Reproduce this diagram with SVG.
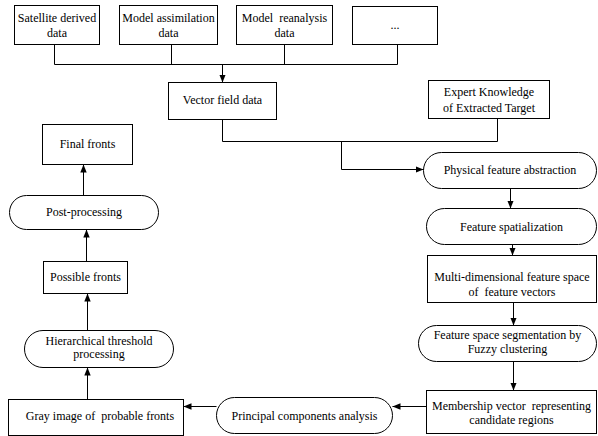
<svg xmlns="http://www.w3.org/2000/svg" width="598" height="436" viewBox="0 0 598 436">
<style>
.n rect{fill:#fff;stroke:#000;stroke-width:1}
text{font-family:'Liberation Serif',serif;font-size:12px;fill:#000;text-anchor:middle}
.c path{fill:none;stroke:#000;stroke-width:1}
</style>
<defs>
<marker id="a" markerUnits="userSpaceOnUse" markerWidth="10" markerHeight="8" refX="8" refY="4" orient="auto">
<path d="M0,0.8 L8,4 L0,7.2 z" fill="#000"/>
</marker>
</defs>
<rect width="598" height="436" fill="#fff"/>
<g font-family="Liberation Serif, serif">
<g id="sat" class="n"><rect x="14.5" y="5.5" width="85" height="39"/><text x="57" y="22">Satellite derived</text><text x="57" y="37">data</text></g>
<g id="assim" class="n"><rect x="119.5" y="5.5" width="98" height="39"/><text x="168.5" y="22">Model assimilation</text><text x="168.5" y="37">data</text></g>
<g id="rean" class="n"><rect x="236.5" y="5.5" width="96" height="39"/><text x="284.5" y="22" xml:space="preserve">Model  reanalysis</text><text x="284.5" y="37">data</text></g>
<g id="dots" class="n"><rect x="352.5" y="6.5" width="85" height="38"/><text x="395" y="29">...</text></g>
<g id="vector" class="n"><rect x="168.5" y="82.5" width="108" height="37"/><text x="222.5" y="104">Vector field data</text></g>
<g id="expert" class="n"><rect x="428.5" y="80.5" width="121" height="38"/><text x="489" y="96">Expert Knowledge</text><text x="489" y="112">of Extracted Target</text></g>
<g id="final" class="n"><rect x="42.5" y="124.5" width="90" height="40"/><text x="87.5" y="148">Final fronts</text></g>
<g id="post" class="n"><rect x="9.5" y="195.5" width="149" height="34" rx="17"/><text x="84" y="216">Post-processing</text></g>
<g id="possible" class="n"><rect x="43.5" y="261.5" width="84" height="32"/><text x="85.5" y="281">Possible fronts</text></g>
<g id="hier" class="n"><rect x="24.5" y="330.5" width="149" height="37" rx="18.5"/><text x="99" y="345">Hierarchical threshold</text><text x="99" y="358">processing</text></g>
<g id="gray" class="n"><rect x="8.5" y="399.5" width="175" height="36"/><text x="100" y="420" xml:space="preserve">Gray image of  probable fronts</text></g>
<g id="pca" class="n"><rect x="216.5" y="397.5" width="176" height="36" rx="18"/><text x="304.5" y="420">Principal components analysis</text></g>
<g id="phys" class="n"><rect x="423.5" y="152.5" width="173" height="36" rx="18"/><text x="510" y="174">Physical feature abstraction</text></g>
<g id="spat" class="n"><rect x="426.5" y="208.5" width="170" height="36" rx="18"/><text x="511.5" y="231">Feature spatialization</text></g>
<g id="multi" class="n"><rect x="427.5" y="255.5" width="169" height="47"/><text x="512" y="281">Multi-dimensional feature space</text><text x="512" y="296" xml:space="preserve">of  feature vectors</text></g>
<g id="seg" class="n"><rect x="418.5" y="325.5" width="178" height="36" rx="18"/><text x="507.5" y="339">Feature space segmentation by</text><text x="507.5" y="353">Fuzzy clustering</text></g>
<g id="member" class="n"><rect x="426.5" y="390.5" width="170" height="43"/><text x="511.5" y="410" xml:space="preserve">Membership vector  representing</text><text x="511.5" y="424">candidate regions</text></g>
</g>
<g id="connectors" class="c">
<path d="M54.5,44.5 V64.5 M171.5,44.5 V64.5 M284.5,44.5 V64.5 M397.5,44.5 V64.5 M54.5,64.5 H397.5"/>
<path d="M222.5,64.5 V82.5" marker-end="url(#a)"/>
<path d="M222.5,119.5 V141.5 H497.5 M497.5,118.5 V141.5"/>
<path d="M341.5,141.5 V169.5 H423.5" marker-end="url(#a)"/>
<path d="M510.5,188.5 V208.5" marker-end="url(#a)"/>
<path d="M512.5,244.5 V255.5" marker-end="url(#a)"/>
<path d="M513.5,302.5 V325.5" marker-end="url(#a)"/>
<path d="M513.5,361.5 V390.5" marker-end="url(#a)"/>
<path d="M426.5,406.5 H392.5" marker-end="url(#a)"/>
<path d="M216.5,406.5 H183.5" marker-end="url(#a)"/>
<path d="M87.5,399.5 V367.5" marker-end="url(#a)"/>
<path d="M87.5,330.5 V293.5" marker-end="url(#a)"/>
<path d="M86.5,261.5 V229.5" marker-end="url(#a)"/>
<path d="M83.5,195.5 V164.5" marker-end="url(#a)"/>
</g>
</svg>
